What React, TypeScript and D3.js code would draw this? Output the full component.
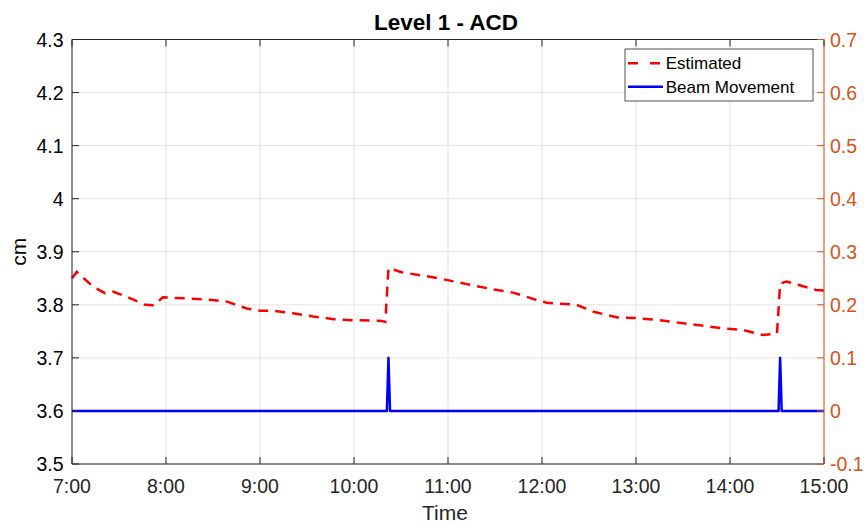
import React from "react";
import * as d3 from "d3";

const estTimes = ["7:00","7:03","7:13.6","7:21","7:26","7:35","7:46.6","7:52","7:58","8:13","8:30","8:39","8:51.5","9:00","9:08","9:21","9:34","9:47","9:59.5","10:16.6","10:20","10:22","10:31","10:48.5","10:59","11:12","11:29","11:41.6","11:56.6","12:03","12:22","12:33","12:48","13:00.5","13:15","13:39","13:54","14:08.5","14:21","14:30","14:32","14:36","14:55","15:00"];
const estValues = [3.850,3.862,3.834,3.822,3.825,3.815,3.800,3.799,3.814,3.812,3.809,3.806,3.793,3.789,3.789,3.784,3.778,3.773,3.771,3.770,3.768,3.869,3.861,3.853,3.847,3.839,3.829,3.823,3.809,3.804,3.800,3.787,3.776,3.775,3.771,3.762,3.756,3.7525,3.743,3.746,3.840,3.844,3.828,3.827];
const beamTimes = ["7:00","10:21","10:22","10:23","14:31","14:32","14:33","15:00"];
const beamValues = [0,0,0.1,0,0,0.1,0,0];
const xTickLabels = ["7:00","8:00","9:00","10:00","11:00","12:00","13:00","14:00","15:00"];
const leftTicks = [3.5,3.6,3.7,3.8,3.9,4,4.1,4.2,4.3];
const rightTicks = [-0.1,0,0.1,0.2,0.3,0.4,0.5,0.6,0.7];

const toH = (s: string) => { const [h, m] = s.split(":"); return +h + +m / 60; };

export default function App() {
  const W = 864, H = 525;
  const L = 72, R = 824, T = 39.5, B = 464;
  const x = d3.scaleLinear().domain([7, 15]).range([L, R]);
  const yL = d3.scaleLinear().domain([3.5, 4.3]).range([B, T]);
  const yR = d3.scaleLinear().domain([-0.1, 0.7]).range([B, T]);
  const estLine = d3.line<number>().x((_, i) => x(toH(estTimes[i]))).y(d => yL(d))(estValues) || "";
  const beamLine = d3.line<number>().x((_, i) => x(toH(beamTimes[i]))).y(d => yR(d))(beamValues) || "";
  const font = "Liberation Sans, Arial, sans-serif";
  const axisCol = "#262626";
  const orange = "#D95319";
  const tl = 7;
  const fs = 19.5;
  return (
    <svg width={W} height={H} style={{ position: "absolute", left: 0, top: 0, fontFamily: font }}>
      <rect x={0} y={0} width={W} height={H} fill="#fff" />
      {xTickLabels.map((t, i) => (
        <line key={"gx" + i} x1={x(toH(t))} x2={x(toH(t))} y1={T} y2={B} stroke="#e3e3e3" strokeWidth={1} />
      ))}
      {leftTicks.map((v, i) => (
        <line key={"gy" + i} x1={L} x2={R} y1={yL(v)} y2={yL(v)} stroke="#e3e3e3" strokeWidth={1} />
      ))}
      <path d={beamLine} fill="none" stroke="#0000ff" strokeWidth={2.5} strokeLinejoin="round" />
      <path d={estLine} fill="none" stroke="#ff0000" strokeWidth={2.5} strokeDasharray="10 7" />
      {/* box */}
      <line x1={L} x2={R} y1={T} y2={T} stroke={axisCol} strokeWidth={1} />
      <line x1={L} x2={R} y1={B} y2={B} stroke={axisCol} strokeWidth={1} />
      <line x1={L} x2={L} y1={T} y2={B} stroke={axisCol} strokeWidth={1} />
      <line x1={R} x2={R} y1={T} y2={B} stroke={orange} strokeWidth={1} />
      {xTickLabels.map((t, i) => {
        const xx = x(toH(t));
        return (
          <g key={"xt" + i}>
            <line x1={xx} x2={xx} y1={B} y2={B - tl} stroke={axisCol} />
            <line x1={xx} x2={xx} y1={T} y2={T + tl} stroke={axisCol} />
            <text x={xx} y={493} textAnchor="middle" fontSize={fs} fill={axisCol}>{t}</text>
          </g>
        );
      })}
      {leftTicks.map((v, i) => (
        <g key={"lt" + i}>
          <line x1={L} x2={L + tl} y1={yL(v)} y2={yL(v)} stroke={axisCol} />
          <text x={63.5} y={yL(v) + 7} textAnchor="end" fontSize={fs} fill="#000">{String(v)}</text>
        </g>
      ))}
      {rightTicks.map((v, i) => (
        <g key={"rt" + i}>
          <line x1={R} x2={R - tl} y1={yR(v)} y2={yR(v)} stroke={orange} />
          <text x={830} y={yR(v) + 7} textAnchor="start" fontSize={fs} fill={orange}>{v < 0 ? "-" + String(-v) : String(v)}</text>
        </g>
      ))}
      <text x={446} y={30} textAnchor="middle" fontSize={22.5} fontWeight="bold" fill="#000">Level 1 - ACD</text>
      <text x={445} y={520} textAnchor="middle" fontSize={21} fill={axisCol}>Time</text>
      <text transform={`translate(26, ${(T + B) / 2}) rotate(-90)`} textAnchor="middle" fontSize={21} fill="#000">cm</text>
      {/* legend */}
      <rect x={625} y={49} width={188} height={52} fill="#fff" stroke="#262626" strokeWidth={0.8} />
      <line x1={628} x2={663} y1={63.3} y2={63.3} stroke="#ff0000" strokeWidth={2.5} strokeDasharray="10 12" />
      <text x={665.7} y={69.3} fontSize={17} fill="#000">Estimated</text>
      <line x1={628} x2={663} y1={86.7} y2={86.7} stroke="#0000ff" strokeWidth={2.5} />
      <text x={665.7} y={93.3} fontSize={17} fill="#000">Beam Movement</text>
    </svg>
  );
}
